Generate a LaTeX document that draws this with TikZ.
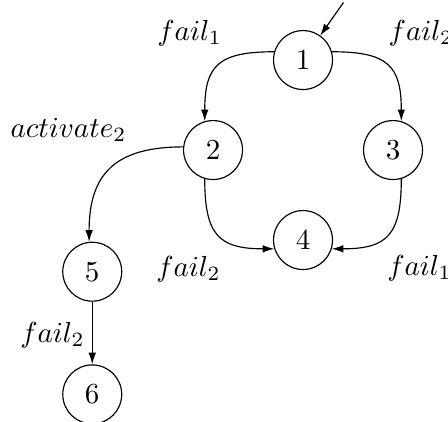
\documentclass[tikz,border=0pt]{standalone}
\usetikzlibrary{arrows.meta}
\tikzset{state/.style={circle,draw=black,line width=0.4pt,minimum size=20.3pt,inner sep=0pt},
         trans/.style={line width=0.4pt,-{Latex[length=4pt,width=2.6pt]}},
         lbl/.style={inner sep=0pt}}

\begin{document}
\begin{tikzpicture}[x=31pt,y=31pt]
  \useasboundingbox (-2.367,-3.011) rectangle (2.611,1.667);
  % states
  \node[state] (n1) at (1,1) {1};
  \node[state] (n2) at (0,0) {2};
  \node[state] (n3) at (2,0) {3};
  \node[state] (n4) at (1,-1) {4};
  \node[state] (n5) at (-1.342,-1.352) {5};
  \node[state] (n6) at (-1.342,-2.715) {6};
  \coordinate (init) at (1.45,1.64);
  % transitions
  \draw[trans] (init) -- (n1);
  \draw[trans] (n1.164) to[out=180,in=90,looseness=1.45] (n2.106);
  \draw[trans] (n1.16) to[out=0,in=90,looseness=1.45] (n3.74);
  \draw[trans] (n2.174) to[out=180,in=90,looseness=1.3] (n5.96);
  \draw[trans] (n2.254) to[out=270,in=180,looseness=1.45] (n4.197);
  \draw[trans] (n3.286) to[out=270,in=0,looseness=1.45] (n4.343);
  \draw[trans] (n5) -- (n6);
  % labels
  \node[lbl] (l12) at (-0.26,1.30) {$fail_1$};
  \node[lbl] (l13) at (2.31,1.30) {$fail_2$};
  \node[lbl] (l25) at (-1.606,0.222) {$activate_2$};
  \node[lbl] (l24) at (-0.272,-1.322) {$fail_2$};
  \node[lbl] (l34) at (2.294,-1.311) {$fail_1$};
  \node[lbl] (l56) at (-1.783,-2.055) {$fail_2$};
\end{tikzpicture}
\end{document}
